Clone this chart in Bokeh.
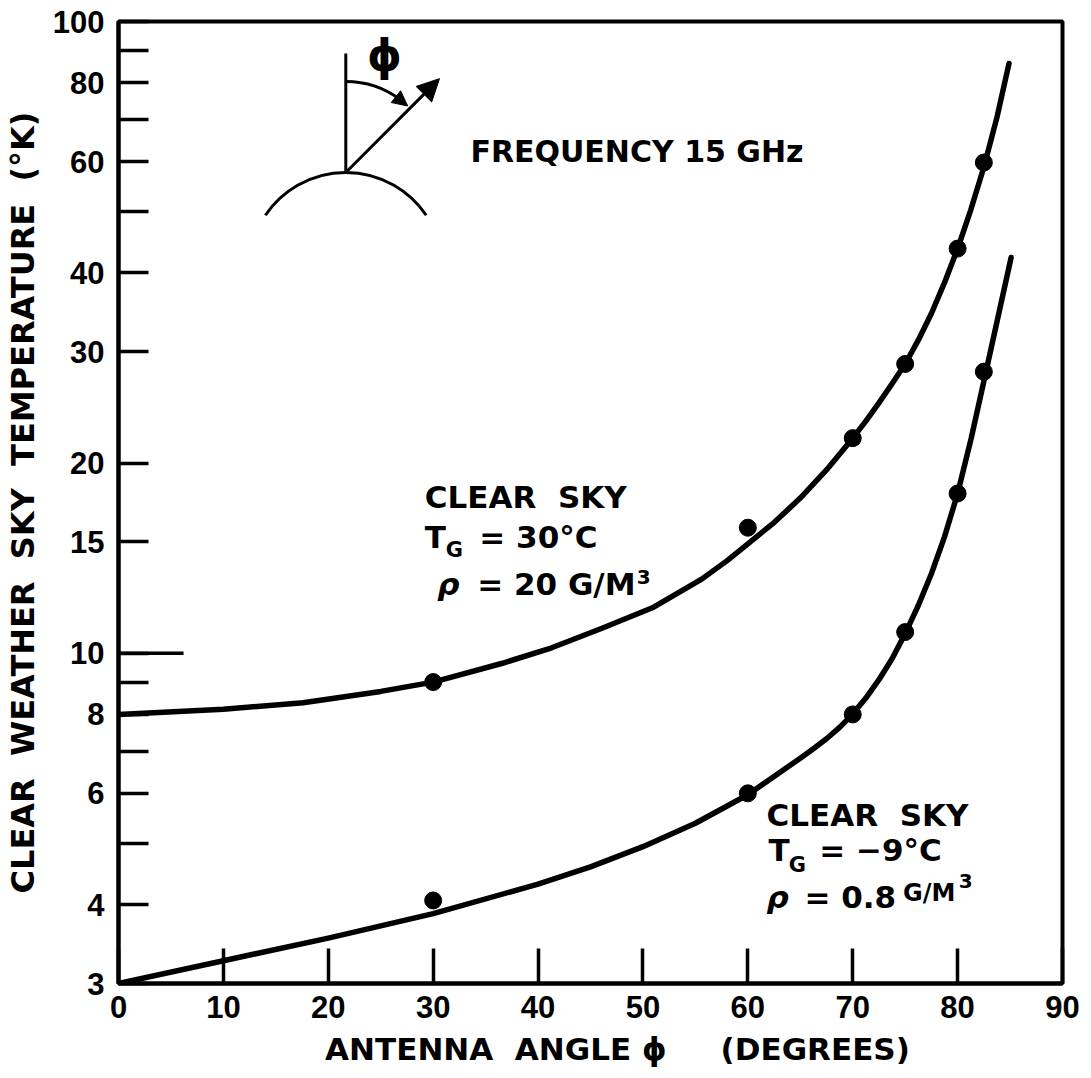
import math

from bokeh.embed import file_html
from bokeh.models import Arrow, FixedTicker, Label, NormalHead, Range1d
from bokeh.plotting import figure
from bokeh.resources import INLINE

# Measured clear-sky temperatures, 15 GHz
warm_angles = [30, 60, 70, 75, 80, 82.5]
warm_temps = [9.0, 15.8, 21.9, 28.7, 43.7, 59.8]
cold_angles = [30, 60, 70, 75, 80, 82.5]
cold_temps = [4.06, 6.0, 8.0, 10.8, 17.9, 27.9]

# Fitted curves (T_G = 30 C, rho = 20 g/m3 and T_G = -9 C, rho = 0.8 g/m3)
warm_curve_angles = [0, 10, 17.6, 25, 30, 36.6, 41.3, 46.1, 50.9, 55.6, 58, 60,
                     62.5, 65, 67.5, 70, 71.25, 72.5, 73.75, 75, 76.25, 77.5, 78.75,
                     80, 81.25, 82.5, 83.75, 84.9]
warm_curve_temps = [8.0, 8.15, 8.35, 8.7, 9.0, 9.64, 10.2, 10.95, 11.8, 13.1, 14.0, 14.9,
                    16.1, 17.6, 19.5, 21.9, 23.3, 24.9, 26.7, 28.7, 31.3, 34.5, 38.6,
                    43.7, 50.3, 58.8, 70.5, 85.8]
cold_curve_angles = [0, 10, 20, 30, 40, 45, 50, 55, 60, 65, 66.25, 67.5, 68.75, 70,
                     71.25, 72.5, 73.75, 75, 76.25, 77.5, 78.75, 80, 81.3, 82.6,
                     83.85, 85.1]
cold_curve_temps = [3.0, 3.26, 3.54, 3.87, 4.31, 4.59, 4.94, 5.38, 5.97, 6.82, 7.06, 7.32,
                    7.63, 8.01, 8.49, 9.08, 9.80, 10.74, 11.9, 13.36, 15.28, 17.9, 21.9,
                    27.4, 34.05, 42.3]

# Axis ticks and labels
x_ticks = [0, 10, 20, 30, 40, 50, 60, 70, 80, 90]
y_ticks = [3, 4, 5, 6, 7, 8, 9, 10, 15, 20, 30, 40, 50, 60, 70, 80, 90, 100]
y_tick_labels = ["3", "4", "", "6", "", "8", "", "10", "15", "20", "30", "40", "",
                 "60", "", "80", "", "100"]

NUM_FONT = "Liberation Sans"
TEXT_FONT = "DejaVu Sans"
INK = "black"
SP = "\u00a0"

p = figure(width=1091, height=1078, title=None,
           x_range=Range1d(0, 90), y_range=Range1d(3, 100), y_axis_type="log",
           output_backend="svg", toolbar_location=None,
           min_border_left=115, min_border_right=29,
           min_border_top=21, min_border_bottom=95)
p.grid.visible = False
p.background_fill_color = "white"
p.border_fill_color = "white"
p.outline_line_color = INK
p.outline_line_width = 4

for ax in (p.xaxis[0], p.yaxis[0]):
    ax.axis_line_width = 4
    ax.axis_line_color = INK
    ax.major_tick_line_width = 3.5
    ax.major_tick_line_color = INK
    ax.major_tick_out = 0
    ax.minor_tick_line_color = None
    ax.major_label_text_font = NUM_FONT
    ax.major_label_text_font_style = "bold"
    ax.major_label_text_font_size = "31px"
    ax.major_label_text_color = INK
    ax.axis_label_text_font = TEXT_FONT
    ax.axis_label_text_font_style = "bold"
    ax.axis_label_text_color = INK

p.xaxis.ticker = FixedTicker(ticks=x_ticks)
p.xaxis.major_tick_in = 35
p.xaxis.major_label_standoff = 12
p.xaxis.axis_label = SP * 5 + "ANTENNA" + SP * 2 + "ANGLE ϕ" + SP * 5 + "(DEGREES)"
p.xaxis.axis_label_text_font_size = "31px"
p.xaxis.axis_label_standoff = 10

p.yaxis.ticker = FixedTicker(ticks=y_ticks)
p.yaxis.major_label_overrides = dict(zip(y_ticks, y_tick_labels))
p.yaxis.major_tick_in = 30
p.yaxis.major_label_standoff = 14
p.yaxis.axis_label = SP.join(["CLEAR", "", "WEATHER", "", "SKY", "", "TEMPERATURE", "", "(°K)"])
p.yaxis.axis_label_text_font_size = "32px"
p.yaxis.axis_label_standoff = 8

# longer reference tick at 10 K
p.segment(x0=[0], y0=[10], x1=[6.2], y1=[10], line_width=3.5, line_color=INK)

# curves and measured points
p.line(warm_curve_angles, warm_curve_temps, line_width=5.5, line_color=INK,
       line_join="round", line_cap="round")
p.line(cold_curve_angles, cold_curve_temps, line_width=5.5, line_color=INK,
       line_join="round", line_cap="round")
p.scatter(warm_angles, warm_temps, size=17, color=INK)
p.scatter(cold_angles, cold_temps, size=17, color=INK)

# sketch of the antenna geometry: earth surface, zenith and beam direction
cx, cy = 21.67, 57.68
p.arc(x=[cx], y=[40.5], radius=97, radius_units="screen",
      start_angle=math.radians(34), end_angle=math.radians(146),
      line_width=3, line_color=INK)
p.segment(x0=[cx], y0=[cy], x1=[cx], y1=[89.0], line_width=3, line_color=INK)
p.add_layout(Arrow(end=NormalHead(size=22, fill_color=INK, line_color=INK),
                   x_start=cx, y_start=cy, x_end=30.6, y_end=81.2,
                   line_width=3, line_color=INK))
p.arc(x=[cx], y=[cy], radius=91, radius_units="screen",
      start_angle=math.radians(53), end_angle=math.radians(90),
      line_width=3, line_color=INK)
p.add_layout(Arrow(end=NormalHead(size=15, fill_color=INK, line_color=INK),
                   x_start=26.51, y_start=75.9, x_end=27.57, y_end=73.5,
                   line_width=3, line_color=INK))


def note(x, y, text, size="31px", style="bold", font=TEXT_FONT, align="left"):
    p.add_layout(Label(x=x, y=y, text=text, text_font=font,
                       text_font_style=style, text_font_size=size,
                       text_color=INK, text_baseline="middle", text_align=align))


note(25.37, 88.5, "ϕ", size="44px", align="center")
note(33.55, 62.3, "FREQUENCY 15 GHz", size="30px")

# warm, humid atmosphere
note(29.2, 17.64, "CLEAR" + SP * 2 + "SKY")
note(29.2, 15.30, "T")
note(31.2, 14.59, "G", size="21px")
note(34.4, 15.30, "= 30°C")
note(30.4, 12.89, "ρ", style="bold italic")
note(34.2, 12.89, "= 20 G/M")
note(49.4, 13.22, "3", size="20px")

# cold, dry atmosphere
note(61.78, 5.554, "CLEAR" + SP * 2 + "SKY")
note(61.96, 4.887, "T")
note(63.9, 4.628, "G", size="21px")
note(66.81, 4.887, "= −9°C")
note(61.78, 4.106, "ρ", style="bold italic")
note(65.4, 4.106, "= 0.8")
note(74.8, 4.166, "G/M", size="24px")
note(80.1, 4.366, "3", size="20px")

open("out.html", "w").write(file_html(p, INLINE))
